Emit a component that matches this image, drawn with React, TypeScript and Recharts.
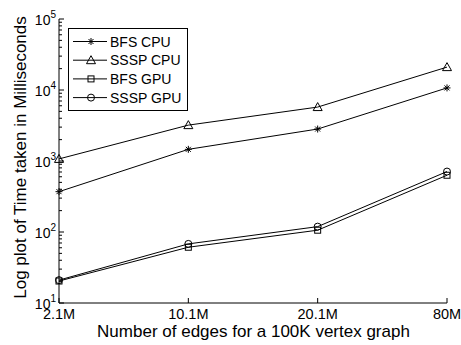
import React from 'react';
import { Label, Legend, Line, LineChart, XAxis, YAxis } from 'recharts';

const categories = ['2.1M', '10.1M', '20.1M', '80M'];
const bfsCpu = [370, 1460, 2820, 10700];
const ssspCpu = [1070, 3200, 5750, 21000];
const bfsGpu = [20.4, 61, 106, 630];
const ssspGpu = [21, 68, 119, 710];

const majorTicks = [10, 100, 1000, 10000, 100000];
const minorSteps = [2, 3, 4, 5, 6, 7, 8, 9];
const allTicks = majorTicks.slice(0, -1).flatMap((d) => [d, ...minorSteps.map((m) => m * d)]).concat([100000]);

const seriesNames = ['BFS CPU', 'SSSP CPU', 'BFS GPU', 'SSSP GPU'];
const markers = ['star', 'triangle', 'square', 'circle'];

const data = categories.map((c, i) => ({
  name: c,
  bfsCpu: bfsCpu[i],
  ssspCpu: ssspCpu[i],
  bfsGpu: bfsGpu[i],
  ssspGpu: ssspGpu[i],
}));

const FONT = '"Liberation Sans", Arial, Helvetica, sans-serif';

function Marker({ kind, cx, cy }: { kind: string; cx: number; cy: number }) {
  const s = { stroke: '#000', strokeWidth: 1, fill: 'none' };
  if (kind === 'star') {
    const r = 3.5;
    const d = 2.5;
    return (
      <g {...s}>
        <line x1={cx - r} y1={cy} x2={cx + r} y2={cy} />
        <line x1={cx} y1={cy - r} x2={cx} y2={cy + r} />
        <line x1={cx - d} y1={cy - d} x2={cx + d} y2={cy + d} />
        <line x1={cx - d} y1={cy + d} x2={cx + d} y2={cy - d} />
      </g>
    );
  }
  if (kind === 'triangle') {
    return <polygon {...s} points={`${cx},${cy - 4.5} ${cx - 4.5},${cy + 3.5} ${cx + 4.5},${cy + 3.5}`} />;
  }
  if (kind === 'square') {
    return <rect {...s} x={cx - 3} y={cy - 3} width={6} height={6} />;
  }
  return <circle {...s} cx={cx} cy={cy} r={3.5} />;
}

const dotFor = (kind: string) => (p: any) => <Marker key={`${kind}-${p.index}`} kind={kind} cx={p.cx} cy={p.cy} />;

function LeftTick(props: any) {
  const { x, y, payload } = props;
  const v = payload.value;
  const major = majorTicks.includes(v);
  return (
    <g>
      <line x1={x} y1={y} x2={x + (major ? 5 : 3)} y2={y} stroke="#000" />
      {major && (
        <text x={x - 3} y={y + 6} textAnchor="end" fontFamily={FONT} fontSize={14} fill="#000">
          <tspan>10</tspan>
          <tspan dy={-7} fontSize={10}>{Math.round(Math.log10(v))}</tspan>
        </text>
      )}
    </g>
  );
}

function RightTick(props: any) {
  const { x, y, payload } = props;
  const major = majorTicks.includes(payload.value);
  return <line x1={x} y1={y} x2={x - (major ? 5 : 3)} y2={y} stroke="#000" />;
}

function BottomTick(props: any) {
  const { x, y, payload } = props;
  return (
    <g>
      <line x1={x} y1={y} x2={x} y2={y - 5} stroke="#000" />
      <text x={x} y={y + 16} textAnchor="middle" fontFamily={FONT} fontSize={14.5} fill="#000">
        {payload.value}
      </text>
    </g>
  );
}

function TopTick(props: any) {
  const { x, y } = props;
  return <line x1={x} y1={y} x2={x} y2={y + 5} stroke="#000" />;
}

function LegendBox() {
  return (
    <div style={{ border: '1px solid #000', background: '#fff', width: 118, height: 81 }}>
      <svg width={118} height={81}>
        {seriesNames.map((n, i) => {
          const cy = 12.5 + i * 18.7;
          return (
            <g key={n}>
              <line x1={4} y1={cy} x2={38} y2={cy} stroke="#000" />
              <Marker kind={markers[i]} cx={22} cy={cy} />
              <text x={41} y={cy + 5} fontFamily={FONT} fontSize={14} fill="#000">
                {n}
              </text>
            </g>
          );
        })}
      </svg>
    </div>
  );
}

export default function App() {
  const keys = ['bfsCpu', 'ssspCpu', 'bfsGpu', 'ssspGpu'];
  return (
    <div style={{ position: 'absolute', left: 0, top: 0, width: 461, height: 345, background: '#fff' }}>
      <LineChart width={461} height={345} data={data} margin={{ top: 19, right: 14, bottom: 0, left: 0 }}>
        <XAxis
          dataKey="name"
          scale="point"
          padding={{ left: 0, right: 0 }}
          height={42}
          tickSize={0}
          tickMargin={0}
          interval={0}
          tick={<BottomTick />}
          axisLine={{ stroke: '#000' }}
        >
          <Label
            content={() => (
              <text x={253.5} y={337} textAnchor="middle" fontFamily={FONT} fontSize={17} fill="#000">
                Number of edges for a 100K vertex graph
              </text>
            )}
          />
        </XAxis>
        <XAxis
          xAxisId="top"
          dataKey="name"
          orientation="top"
          scale="point"
          padding={{ left: 0, right: 0 }}
          height={0}
          tickSize={0}
          tickMargin={0}
          interval={0}
          tick={<TopTick />}
          axisLine={{ stroke: '#000' }}
        />
        <YAxis
          scale="log"
          domain={[10, 100000]}
          ticks={allTicks}
          interval={0}
          allowDataOverflow
          width={59}
          tickSize={0}
          tickMargin={0}
          tick={<LeftTick />}
          axisLine={{ stroke: '#000' }}
        >
          <Label
            content={() => (
              <text
                x={25.5}
                y={157.5}
                transform="rotate(-90, 25.5, 157.5)"
                textAnchor="middle"
                fontFamily={FONT}
                fontSize={17}
                fill="#000"
              >
                Log plot of Time taken in Milliseconds
              </text>
            )}
          />
        </YAxis>
        <YAxis
          yAxisId="right"
          orientation="right"
          scale="log"
          domain={[10, 100000]}
          ticks={allTicks}
          interval={0}
          allowDataOverflow
          width={0}
          tickSize={0}
          tickMargin={0}
          tick={<RightTick />}
          axisLine={{ stroke: '#000' }}
        />
        {keys.map((k, i) => (
          <Line
            key={k}
            dataKey={k}
            name={seriesNames[i]}
            stroke="#000"
            strokeWidth={1}
            dot={dotFor(markers[i])}
            activeDot={false}
            isAnimationActive={false}
          />
        ))}
        <Legend
          layout="vertical"
          align="center"
          verticalAlign="middle"
          content={() => <LegendBox />}
          wrapperStyle={{ left: 68, top: 28, width: 120, height: 83 }}
        />
      </LineChart>
    </div>
  );
}
